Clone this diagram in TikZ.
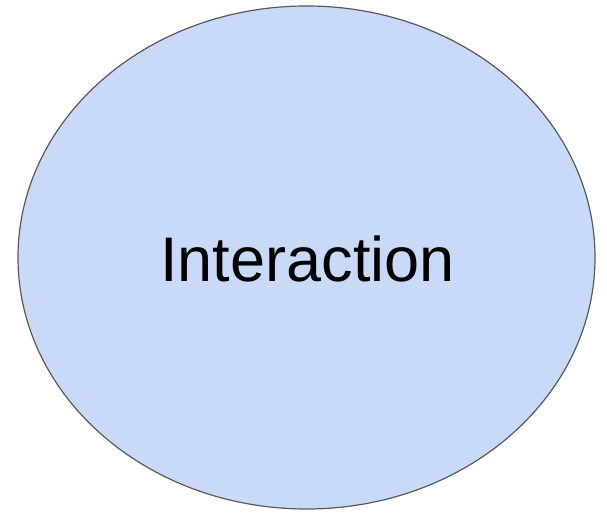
\documentclass[tikz,border=0pt]{standalone}
\usepackage{fontspec}
\setmainfont{Liberation Sans}
\usetikzlibrary{shapes.geometric}
\definecolor{bubblefill}{HTML}{C9DAF8}
\definecolor{bubbleline}{HTML}{595959}
\begin{document}
\begin{tikzpicture}[x=1pt, y=1pt]
    \useasboundingbox (0, 0) rectangle (607, 513) ;
    \draw[bubbleline, fill=bubblefill, line width=1.2pt] (306.5, 255.5) ellipse (288.5 and 251.5) ;
    \node[inner sep=0pt, font=\fontsize{63}{76}\selectfont] (interaction) at (307.5, 254.5) {Interaction} ;
  \end{tikzpicture}
\end{document}
